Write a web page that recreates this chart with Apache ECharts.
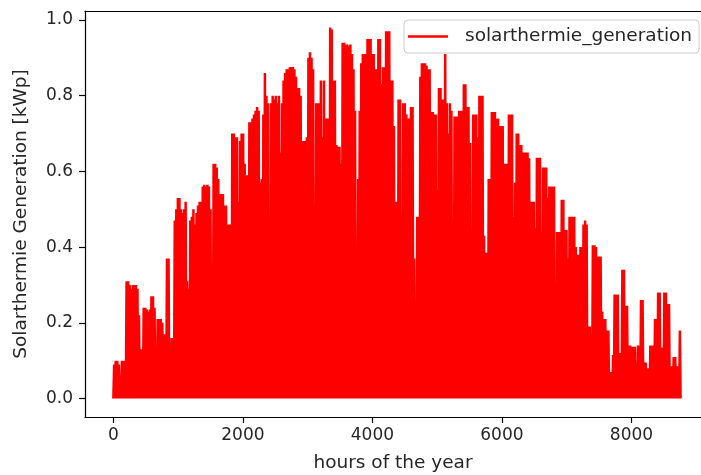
<!DOCTYPE html>
<html>
<head>
<meta charset="utf-8">
<script src="https://cdn.jsdelivr.net/npm/echarts@6/dist/echarts.min.js"></script>
<style>
html,body{margin:0;padding:0;background:#fff;}
#chart{width:701px;height:475px;}
</style>
</head>
<body>
<div id="chart"></div>
<script>
// Daily peak values (kWp), one per day of the year
const dailyPeaks = [
0.09,0.10,0.10,0.09,0.055,0.10,0.10,0.10,0.31,0.31,
0.30,0.29,0.30,0.30,0.30,0.29,0.22,0.13,0.13,0.24,
0.24,0.235,0.23,0.235,0.27,0.27,0.24,0.12,0.21,0.21,
0.21,0.20,0.17,0.17,0.37,0.37,0.085,0.16,0.16,0.47,
0.50,0.53,0.53,0.50,0.49,0.50,0.52,0.31,0.29,0.47,
0.48,0.50,0.46,0.49,0.51,0.52,0.52,0.56,0.565,0.56,
0.565,0.56,0.50,0.26,0.62,0.62,0.61,0.58,0.54,0.54,
0.54,0.51,0.51,0.46,0.46,0.46,0.70,0.70,0.69,0.69,
0.52,0.68,0.70,0.70,0.62,0.59,0.59,0.73,0.73,0.74,
0.75,0.76,0.77,0.76,0.57,0.58,0.75,0.86,0.80,0.78,
0.14,0.78,0.80,0.79,0.80,0.78,0.80,0.65,0.78,0.84,
0.86,0.87,0.87,0.875,0.876,0.876,0.87,0.85,0.82,0.82,
0.80,0.68,0.68,0.68,0.69,0.90,0.915,0.90,0.87,0.45,
0.78,0.78,0.78,0.84,0.69,0.84,0.74,0.74,0.74,0.98,
0.975,0.84,0.84,0.67,0.665,0.665,0.62,0.94,0.94,0.935,
0.935,0.93,0.935,0.91,0.87,0.76,0.385,0.58,0.76,0.886,
0.91,0.91,0.91,0.95,0.95,0.95,0.91,0.91,0.87,0.87,
0.95,0.95,0.83,0.875,0.875,0.97,0.97,0.97,0.84,0.84,
0.72,0.52,0.52,0.79,0.79,0.445,0.78,0.78,0.75,0.74,
0.74,0.77,0.77,0.37,0.15,0.48,0.48,0.85,0.886,0.886,
0.886,0.88,0.87,0.87,0.757,0.757,0.75,0.75,0.55,0.82,
0.82,0.79,0.79,0.91,0.78,0.70,0.78,0.76,0.47,0.745,
0.745,0.745,0.76,0.76,0.76,0.83,0.83,0.77,0.77,0.675,
0.30,0.75,0.75,0.75,0.69,0.80,0.80,0.80,0.43,0.385,
0.385,0.58,0.58,0.757,0.757,0.757,0.74,0.74,0.72,0.72,
0.72,0.62,0.62,0.62,0.75,0.75,0.75,0.48,0.57,0.70,
0.70,0.67,0.67,0.65,0.65,0.65,0.65,0.635,0.52,0.52,
0.52,0.45,0.636,0.636,0.636,0.44,0.61,0.61,0.61,0.53,
0.56,0.56,0.56,0.56,0.29,0.44,0.44,0.44,0.525,0.525,
0.445,0.445,0.37,0.48,0.48,0.48,0.48,0.40,0.38,0.38,
0.40,0.40,0.46,0.47,0.46,0.19,0.19,0.17,0.405,0.405,
0.40,0.375,0.375,0.375,0.23,0.21,0.21,0.18,0.18,0.07,
0.07,0.115,0.275,0.275,0.275,0.12,0.12,0.34,0.34,0.245,
0.245,0.14,0.14,0.137,0.137,0.137,0.095,0.14,0.14,0.26,
0.26,0.095,0.095,0.08,0.08,0.14,0.14,0.14,0.21,0.21,
0.28,0.28,0.135,0.135,0.28,0.28,0.25,0.25,0.085,0.085,
0.11,0.11,0.085,0.085,0.18
];
const xTickValues = [0, 2000, 4000, 6000, 8000];
const yTickValues = [0, 0.2, 0.4, 0.6, 0.8, 1.0];
const seriesName = 'solarthermie_generation';
const xTitle = 'hours of the year';
const yTitle = 'Solarthermie Generation [kWp]';
const hoursPerDay = 24;
const hoursInYear = 8760;

// Build hourly points: night zero at start of each day, peak at midday
const points = [];
dailyPeaks.forEach((v, d) => {
  points.push([d * hoursPerDay, 0]);
  points.push([d * hoursPerDay + hoursPerDay / 2, v]);
});
points.push([hoursInYear - 1, 0]);

const FONT = 'DejaVu Sans';
const FS_TICK = 17;
const FS_TITLE = 18.5;
const TXT = '#262626';
const XMIN = -438, XMAX = 9074;
const spine = {show: true, onZero: false, lineStyle: {color: '#000', width: 1.2}};

const chart = echarts.init(document.getElementById('chart'), null, {renderer: 'canvas'});
chart.setOption({
  animation: false,
  backgroundColor: '#ffffff',
  textStyle: {fontFamily: FONT},
  grid: {left: 85, top: 11, right: 0, height: 406, show: false, containLabel: false, outerBoundsMode: 'none'},
  legend: {
    left: 404, top: 20,
    padding: [7, 7, 7, 4],
    backgroundColor: 'rgba(255,255,255,0.8)',
    borderColor: '#cccccc', borderWidth: 1, borderRadius: 4,
    itemWidth: 40, itemHeight: 2.5,
    icon: 'rect',
    textStyle: {fontFamily: FONT, fontSize: FS_TITLE, color: TXT, padding: [0, 0, 0, 12]},
    data: [seriesName]
  },
  xAxis: [{
    type: 'value', min: XMIN, max: XMAX, position: 'bottom',
    name: xTitle, nameLocation: 'middle', nameGap: 37,
    nameTextStyle: {fontFamily: FONT, fontSize: FS_TITLE, color: TXT},
    axisLine: spine,
    splitLine: {show: false},
    axisTick: {show: true, inside: false, length: 6, customValues: xTickValues, lineStyle: {color: '#000', width: 1.2}},
    axisLabel: {show: true, customValues: xTickValues, margin: 10, fontFamily: FONT, fontSize: FS_TICK, color: TXT,
      formatter: v => String(Math.round(v))}
  }, {
    type: 'value', min: XMIN, max: XMAX, position: 'top',
    axisLine: spine,
    splitLine: {show: false},
    axisTick: {show: false},
    axisLabel: {show: false}
  }],
  yAxis: {
    type: 'value', min: -0.0487, max: 1.0237,
    name: yTitle, nameLocation: 'middle', nameGap: 54, nameRotate: 90,
    nameTextStyle: {fontFamily: FONT, fontSize: FS_TITLE, color: TXT},
    axisLine: spine,
    splitLine: {show: false},
    axisTick: {show: true, inside: false, length: 6, customValues: yTickValues, lineStyle: {color: '#000', width: 1.2}},
    axisLabel: {show: true, customValues: yTickValues, margin: 12, fontFamily: FONT, fontSize: FS_TICK, color: TXT,
      formatter: v => v.toFixed(1)}
  },
  series: [{
    name: seriesName,
    type: 'line',
    xAxisIndex: 0,
    data: points,
    symbol: 'none',
    showSymbol: false,
    sampling: 'none',
    color: '#ff0000',
    lineStyle: {color: '#ff0000', width: 2.5},
    z: 2
  }]
});
</script>
</body>
</html>
